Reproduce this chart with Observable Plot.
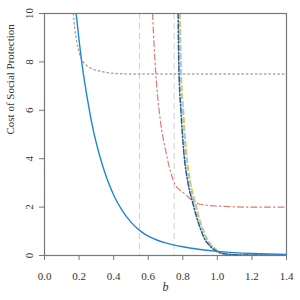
<!DOCTYPE html>
<html><head><meta charset="utf-8">
<script src="https://cdn.jsdelivr.net/npm/d3@7"></script>
<script src="https://cdn.jsdelivr.net/npm/@observablehq/plot@0.6"></script>
<style>body{margin:0;background:#fff}</style>
</head><body><div id="chart"></div>
<script>
const xTicks = [0, 0.2, 0.4, 0.6, 0.8, 1.0, 1.2, 1.4];
const yTicks = [0, 2, 4, 6, 8, 10];
const vLines = [0.55, 0.75];

const blueB = [0.183,0.2,0.22,0.25,0.28,0.32,0.36,0.40,0.45,0.50,0.55,0.60,0.65,0.70,0.75,0.80,0.85,0.90,1.0,1.1,1.2,1.3,1.4];
const blueV = [10,8.9,7.75,6.4,5.25,4.1,3.2,2.5,1.85,1.38,1.04,0.80,0.64,0.52,0.43,0.36,0.30,0.25,0.17,0.12,0.085,0.06,0.045];

const grayB = [0.167,0.175,0.187,0.2,0.215,0.23,0.25,0.28,0.321,0.36,0.417,0.5,0.8,1.1,1.4];
const grayV = [10,9.4,8.8,8.4,8.1,7.95,7.82,7.7,7.62,7.56,7.52,7.5,7.5,7.5,7.5];

const redB = [0.625,0.634,0.644,0.67,0.701,0.73,0.753,0.78,0.811,0.85,0.888,0.95,1.04,1.2,1.4];
const redV = [10,8.7,7.5,5.6,4.34,3.45,2.96,2.72,2.55,2.3,2.14,2.07,2.03,2.0,2.0];

const navyB = [0.773,0.777,0.79,0.805,0.83,0.857,0.88,0.9,0.926,0.95,0.974,1.003,1.05,1.1,1.2,1.4];
const navyV = [10,7.85,5.9,4.34,3.0,2.2,1.58,1.15,0.69,0.45,0.28,0.14,0.06,0.03,0.02,0.01];

const lightB = [0.781,0.786,0.80,0.815,0.84,0.868,0.89,0.91,0.937,0.96,0.985,1.01,1.05,1.1,1.2,1.4];
const lightV = [10,7.85,5.9,4.34,3.0,2.2,1.58,1.15,0.69,0.45,0.28,0.14,0.07,0.04,0.02,0.01];

const yellowB = [0.785,0.791,0.805,0.821,0.846,0.873,0.895,0.915,0.942,0.965,0.99,1.013,1.05,1.1,1.2,1.4];
const yellowV = [10,7.85,5.9,4.34,3.0,2.2,1.58,1.15,0.69,0.45,0.28,0.14,0.07,0.04,0.02,0.01];

const toPts = (bs, vs) => bs.map((b, i) => ({b, v: vs[i]}));

const series = [
  {pts: toPts(grayB, grayV), stroke: "#a8a8a8", dash: "1.5,3", w: 1.4},
  {pts: toPts(redB, redV), stroke: "#e07a72", dash: "6,3,1.5,3", w: 1.2},
  {pts: toPts(yellowB, yellowV), stroke: "#f2c230", dash: "5,3", w: 1.4},
  {pts: toPts(lightB, lightV), stroke: "#a6cbea", dash: "5,3", w: 1.6},
  {pts: toPts(navyB, navyV), stroke: "#2f5a82", dash: "5,2,1.5,2", w: 1.5},
  {pts: toPts(blueB, blueV), stroke: "#2185d6", dash: null, w: 1.4}
];

const chart = Plot.plot({
  width: 300, height: 300,
  marginLeft: 44, marginRight: 14, marginTop: 13, marginBottom: 45,
  style: {fontFamily: "Liberation Serif", fontSize: "11px", color: "#333", background: "#fff"},
  x: {domain: [0, 1.4]},
  y: {domain: [0, 10]},
  marks: [
    Plot.ruleX(vLines, {stroke: "#cfcfcf", strokeDasharray: "6,4", strokeWidth: 1}),
    ...series.map(s => Plot.line(s.pts, {x: "b", y: "v", stroke: s.stroke, strokeWidth: s.w, strokeDasharray: s.dash, curve: "monotone-x", clip: true})),
    Plot.frame({stroke: "#777", strokeWidth: 1.2}),
    Plot.axisX({ticks: xTicks, tickFormat: d3.format(".1f"), tickSize: 5, tickPadding: 12, label: null, stroke: "#777"}),
    Plot.axisY({ticks: yTicks, tickSize: 5, tickPadding: 7, tickRotate: -90, label: null, stroke: "#777"}),
    Plot.text([0], {frameAnchor: "left", text: () => "Cost of Social Protection", rotate: -90, dx: -34, fontSize: 11}),
    Plot.text([0], {frameAnchor: "bottom", text: () => "b", dy: 35, fontStyle: "italic", fontSize: 12})
  ]
});
document.getElementById("chart").appendChild(chart);
</script>
</body></html>
